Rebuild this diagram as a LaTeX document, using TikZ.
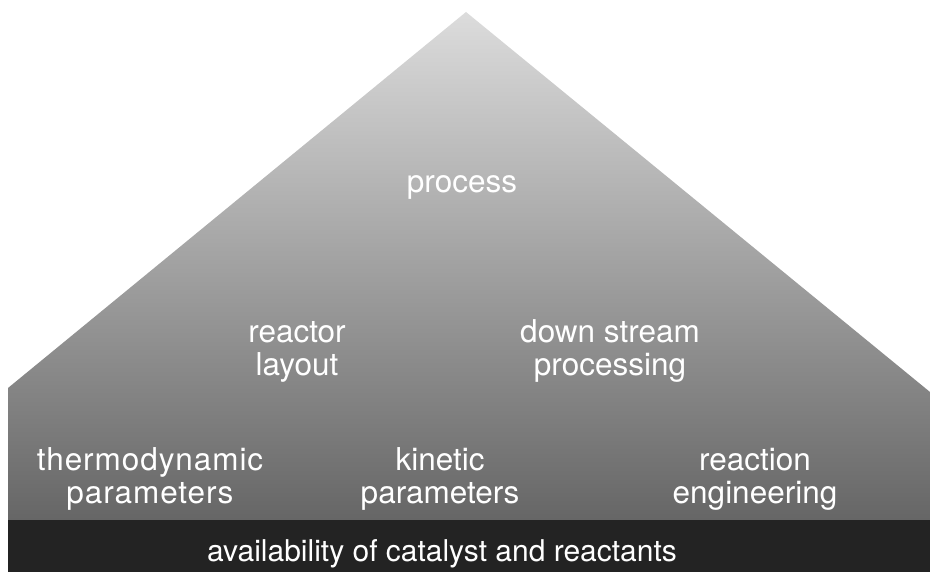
\documentclass[tikz,border=0pt]{standalone}
\usepackage{fontspec}
\setmainfont{TeX Gyre Heros}
\usepackage{tikz}
\usetikzlibrary{positioning}
\usepackage{xcolor}
\definecolor{roofTop}{RGB}{220,220,220}
\definecolor{roofBase}{RGB}{102,102,102}
\definecolor{baseBar}{RGB}{35,35,35}

\begin{document}
\begin{tikzpicture}[x=1pt, y=-1pt,
  lvltext/.style={text=white, align=center, inner sep=0pt, anchor=base,
    font=\fontsize{31.5}{33}\selectfont}]
  \useasboundingbox (0,0) rectangle (930,572);

  % Pyramid body, shaded light at the apex to dark at the foot
  \coordinate (apex) at (466,12);
  \coordinate (eaveL) at (8,388);
  \coordinate (eaveR) at (930,392);
  \coordinate (footL) at (8,520);
  \coordinate (footR) at (930,520);
  \shade[top color=roofTop, bottom color=roofBase]
    (footL) -- (eaveL) -- (apex) -- (eaveR) -- (footR) -- cycle;

  % Foundation bar
  \fill[baseBar] (footL) rectangle (930,572);

  % Levels, top to bottom (base anchor sits on the last line)
  \node[lvltext] (process) at (462,193) {process};

  \node[lvltext] (reactor) at (297,375) {reactor\\layout};
  \node[lvltext] (downstream) at (610,375) {down stream\\processing};

  \node[lvltext, font=\fontsize{31.5}{33}\selectfont\addfontfeature{LetterSpace=3}]
    (thermo) at (150,503) {thermodynamic\\parameters};
  \node[lvltext] (kinetic) at (440,503) {kinetic\\parameters};
  \node[lvltext] (reaction) at (755,503) {reaction\\engineering};

  \node[lvltext, font=\fontsize{30}{33}\selectfont]
    (supply) at (442,561) {availability of catalyst and reactants};
\end{tikzpicture}
\end{document}
